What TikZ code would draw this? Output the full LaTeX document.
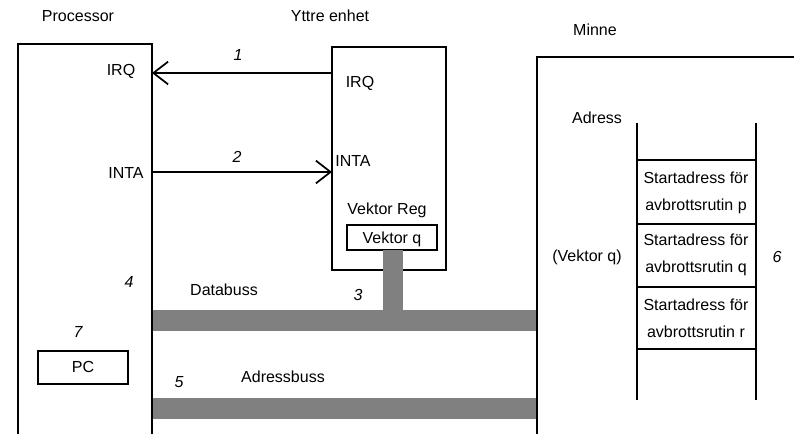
\documentclass[tikz,border=0pt]{standalone}
\usepackage{fontspec}
\setmainfont{Liberation Sans}
\usetikzlibrary{arrows.meta,calc}

\definecolor{busgray}{RGB}{128,128,128}

\begin{document}
\begin{tikzpicture}[x=0.75pt, y=-0.75pt, >={Straight Barb[length=11pt,width=17pt]}, line join=miter,
    wall/.style={line width=1.3pt},
    lbl/.style={font=\fontsize{12}{14}\selectfont, inner sep=0pt},
    num/.style={font=\fontsize{12}{14}\selectfont\itshape, inner sep=0pt},
    cell/.style={font=\fontsize{12}{14}\selectfont, inner sep=0pt, align=center},
    bus/.style={fill=busgray, draw=none}]
            \useasboundingbox (0,0) rectangle (794,434);

            % processor
            \coordinate (PA) at (18,434);
            \coordinate (PB) at (18,44);
            \coordinate (PC) at (152,44);
            \coordinate (PD) at (152,434);
            \draw[wall] (PA) -- (PB) -- (PC) -- (PD);
            \node[lbl] (proc) at (78,16) {Processor};
            \node[lbl] (pirq) at (121,71) {IRQ};
            \node[lbl] (pinta) at (126,173) {INTA};
            \node[num] (n4) at (129,282) {4};
            \node[num] (n7) at (78,332) {7};
            \draw[wall] (38,351) rectangle (128,384);
            \node[lbl] (pc) at (83,367) {PC};

            % yttre enhet
            \coordinate (YA) at (332,47);
            \coordinate (YB) at (446,270);
            \draw[wall] (YA) rectangle (YB);
            \node[lbl] (yttre) at (330,16) {Yttre enhet};
            \node[lbl] (yirq) at (360,83) {IRQ};
            \node[lbl] (yinta) at (353,161) {INTA};
            \node[lbl] (vreg) at (387,210) {Vektor Reg};
            \draw[wall] (347,225) rectangle (437,250);
            \node[lbl] (vq) at (392,239) {Vektor q};

            % signals
            \coordinate (Pirq) at ($(PC)!(0,73)!(PD)$);
            \coordinate (Yirq) at (332,73);
            \coordinate (Pinta) at ($(PC)!(0,172)!(PD)$);
            \coordinate (Yinta) at (332,172);
            \draw[wall,->] (Yirq) -- (Pirq);
            \draw[wall,->] (Pinta) -- (Yinta);
            \node[num] (n1) at (238,55) {1};
            \node[num] (n2) at (237,157) {2};

            % bussar
            \fill[bus] (383,250) rectangle (403,320);
            \fill[bus] (153,310) rectangle (536,331);
            \fill[bus] (153,398) rectangle (536,419);
            \node[lbl] (dbus) at (224,290) {Databuss};
            \node[num] (n3) at (358,295) {3};
            \node[lbl] (abus) at (283,377) {Adressbuss};
            \node[num] (n5) at (179,382) {5};

            % minne
            \coordinate (MA) at (537,434);
            \coordinate (MB) at (537,57);
            \coordinate (MC) at (800,57);
            \draw[wall] (MA) -- (MB) -- (MC);
            \node[lbl] (minne) at (595,30) {Minne};
            \node[lbl] (adr) at (597,118) {Adress};
            \draw[wall] (637,123) -- (637,400);
            \draw[wall] (756,123) -- (756,400);
            \foreach \y in {160,224,287,349}
                \draw[wall] (637,\y) -- (756,\y);
            \node[cell] (cp) at (696,193) {Startadress för\\[6pt]avbrottsrutin p};
            \node[cell] (cq) at (696,255) {Startadress för\\[6pt]avbrottsrutin q};
            \node[cell] (cr) at (696,318) {Startadress för\\[6pt]avbrottsrutin r};
            \node[lbl] (vqm) at (587,257) {(Vektor q)};
            \node[num] (n6) at (777,257) {6};

        \end{tikzpicture}
\end{document}
